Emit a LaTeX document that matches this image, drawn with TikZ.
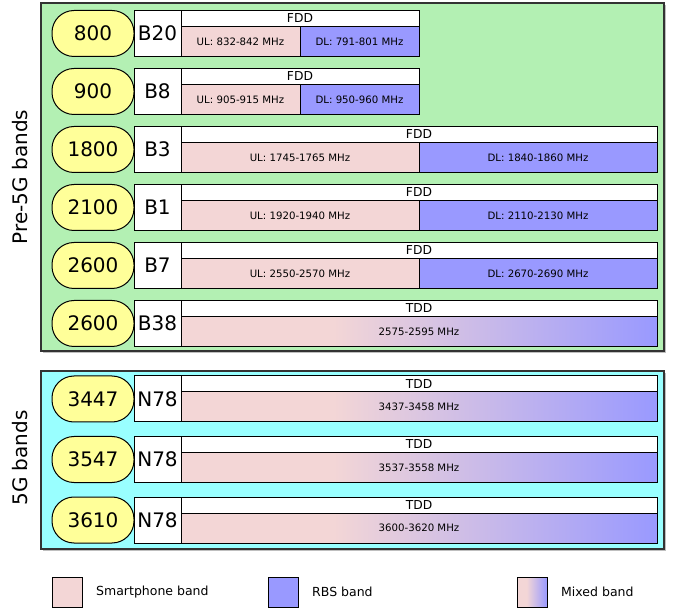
\documentclass[tikz,border=0pt]{standalone}
\usepackage{fontspec}
\setmainfont{DejaVu Sans}
\usetikzlibrary{positioning, shadows}

\definecolor{smpink}{RGB}{243,214,214}
\definecolor{rbsblue}{RGB}{153,153,255}
\definecolor{pregreen}{RGB}{179,240,179}
\definecolor{nrcyan}{RGB}{153,255,255}
\definecolor{freqyellow}{RGB}{255,255,153}
% pink held for the first third, then fading into the RBS blue
\pgfdeclarehorizontalshading{mixedband}{100bp}{color(0bp)=(smpink); color(41bp)=(smpink);
  color(75bp)=(rbsblue); color(100bp)=(rbsblue)}

\begin{document}
\begin{tikzpicture}[x=1pt, y=-1pt,
  panel/.style={draw=black!80, line width=1.3pt, inner sep=0pt, outer sep=0pt,
    drop shadow={shadow xshift=1.8pt, shadow yshift=-1.8pt, fill=black!25, opacity=1}},
  freq/.style={draw=black, line width=1pt, fill=freqyellow, rounded corners=22pt,
    minimum width=82pt, minimum height=46pt, inner sep=0pt, outer sep=0pt,
    font=\fontsize{20}{24}\selectfont},
  bandbox/.style={draw=black, line width=1pt, fill=white, minimum width=47pt,
    minimum height=46pt, inner sep=0pt, outer sep=0pt,
    font=\fontsize{20}{24}\selectfont},
  duplex/.style={draw=black, line width=1pt, fill=white, minimum height=16pt,
    inner sep=0pt, outer sep=0pt, font=\fontsize{12.3}{14}\selectfont},
  ulbar/.style={draw=black, line width=1pt, fill=smpink, minimum height=30pt,
    inner sep=0pt, outer sep=0pt, font=\fontsize{10.2}{12}\selectfont},
  dlbar/.style={ulbar, fill=rbsblue},
  mixbar/.style={ulbar, shade, shading=mixedband},
  legbox/.style={draw=black, line width=1pt, minimum width=30pt, minimum height=30pt,
    inner sep=0pt, outer sep=0pt},
  legtext/.style={font=\fontsize{12.5}{15}\selectfont, inner sep=0pt}]

  \useasboundingbox (0,0) rectangle (678,612);

  % ---- the two groups, drawn first so the rows sit on top ------------------
  \node[panel, fill=pregreen, anchor=north west, minimum width=623pt,
    minimum height=348pt] (pre) at (41,3) {};
  \node[panel, fill=nrcyan, anchor=north west, minimum width=623pt,
    minimum height=178pt] (nr) at (41,371) {};
  \node[rotate=90, font=\fontsize{20}{24}\selectfont] (prelbl) at (20,177) {Pre-5G bands};
  \node[rotate=90, font=\fontsize{20}{24}\selectfont] (nrlbl) at (20,458) {5G bands};

  % ---- FDD rows: #1 top, #2 MHz, #3 band, #4 bar width, #5 uplink, #6 downlink
  \foreach \yy/\mhz/\bnd/\barw/\ul/\dl [count=\i] in {%
    10.5/800/B20/238/{UL: 832-842 MHz}/{DL: 791-801 MHz},
    68.5/900/B8/238/{UL: 905-915 MHz}/{DL: 950-960 MHz},
    126.5/1800/B3/476/{UL: 1745-1765 MHz}/{DL: 1840-1860 MHz},
    184.5/2100/B1/476/{UL: 1920-1940 MHz}/{DL: 2110-2130 MHz},
    242.5/2600/B7/476/{UL: 2550-2570 MHz}/{DL: 2670-2690 MHz}%
  }{
    \node[freq, anchor=north west] (pf\i) at (52,\yy) {\mhz};
    \node[bandbox, anchor=north west] (pb\i) at (134,\yy) {\bnd};
    \node[duplex, anchor=north west, minimum width=\barw] (pd\i) at (pb\i.north east) {FDD};
    \node[ulbar, anchor=north west, minimum width=\barw/2] (pu\i) at (pd\i.south west) {\ul};
    \node[dlbar, anchor=north west, minimum width=\barw/2] (pl\i) at (pu\i.north east) {\dl};
  }

  % ---- TDD rows: one shared bar, smartphone and RBS mixed ------------------
  \foreach \yy/\mhz/\bnd/\rng [count=\i] in {%
    300.5/2600/B38/{2575-2595 MHz},
    376/3447/N78/{3437-3458 MHz},
    436.5/3547/N78/{3537-3558 MHz},
    497/3610/N78/{3600-3620 MHz}%
  }{
    \node[freq, anchor=north west] (tf\i) at (52,\yy) {\mhz};
    \node[bandbox, anchor=north west] (tb\i) at (134,\yy) {\bnd};
    \node[duplex, anchor=north west, minimum width=476] (td\i) at (tb\i.north east) {TDD};
    \node[mixbar, anchor=north west, minimum width=476] (tm\i) at (td\i.south west) {\rng};
  }

  % ---- legend --------------------------------------------------------------
  \node[legbox, fill=smpink, anchor=north west] (kup) at (52,577) {};
  \node[legtext, right=14pt of kup] (kuptxt) {Smartphone band};
  \node[legbox, fill=rbsblue, anchor=north west] (kdl) at (268,577) {};
  \node[legtext, right=14pt of kdl] (kdltxt) {RBS band};
  \node[legbox, shade, shading=mixedband, anchor=north west] (kmix) at (517,577) {};
  \node[legtext, right=14pt of kmix] (kmixtxt) {Mixed band};
\end{tikzpicture}
\end{document}
